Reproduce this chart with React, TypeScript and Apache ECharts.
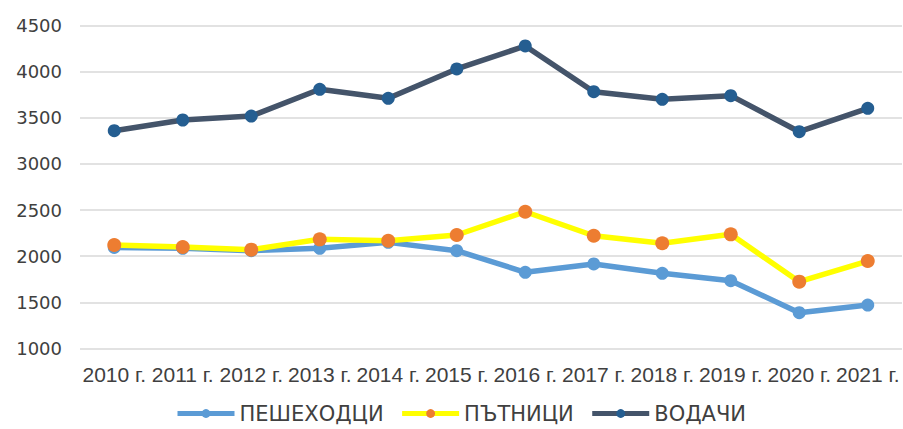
import React, { useEffect, useRef } from "react";
import * as echarts from "echarts";

const categories = [
  "2010 г.", "2011 г.", "2012 г.", "2013 г.", "2014 г.", "2015 г.",
  "2016 г.", "2017 г.", "2018 г.", "2019 г.", "2020 г.", "2021 г.",
];
const pedestrians = [2095, 2085, 2060, 2086, 2150, 2060, 1826, 1916, 1815, 1735, 1388, 1471];
const passengers = [2121, 2100, 2071, 2183, 2168, 2230, 2482, 2222, 2140, 2237, 1724, 1948];
const drivers = [3360, 3476, 3519, 3809, 3711, 4029, 4278, 3783, 3700, 3740, 3349, 3603];

const seriesNames = ["ПЕШЕХОДЦИ", "ПЪТНИЦИ", "ВОДАЧИ"];

export default function App() {
  const ref = useRef<HTMLDivElement>(null);
  useEffect(() => {
    if (!ref.current) return;
    const chart = echarts.init(ref.current, undefined, { renderer: "svg" });
    const mk = (name: string, data: number[], line: string, marker: string, size: number) => ({
      name,
      type: "line",
      data,
      symbol: "circle",
      symbolSize: size,
      lineStyle: { color: line, width: 5.5 },
      itemStyle: { color: marker, borderWidth: 0 },
      emphasis: { disabled: true },
    });
    chart.setOption({
      animation: false,
      backgroundColor: "#ffffff",
      grid: { left: 80, right: 1, top: 25.5, bottom: 80.5, containLabel: false, outerBoundsMode: "none" },
      legend: {
        data: seriesNames,
        top: 403,
        left: 175,
        padding: 0,
        itemWidth: 57,
        itemHeight: 11,
        itemGap: 16,
        lineStyle: { width: 5 },
        textStyle: { fontFamily: "DejaVu Sans", fontSize: 21, color: "#404040" },
      },
      xAxis: {
        type: "category",
        data: categories,
        boundaryGap: true,
        axisLine: { show: false },
        axisTick: { show: false },
        axisLabel: {
          interval: 0,
          margin: 15,
          fontFamily: "Liberation Sans",
          fontSize: 21,
          color: "#404040",
        },
      },
      yAxis: {
        type: "value",
        min: 1000,
        max: 4500,
        interval: 500,
        axisLine: { show: false },
        axisTick: { show: false },
        splitLine: { lineStyle: { color: "#D9D9D9", width: 1.5 } },
        axisLabel: {
          margin: 18,
          fontFamily: "DejaVu Sans",
          fontSize: 18,
          color: "#404040",
          formatter: (v: number) => String(v),
        },
      },
      series: [
        mk(seriesNames[0], pedestrians, "#5B9BD5", "#5B9BD5", 13),
        mk(seriesNames[1], passengers, "#FFFF00", "#ED7D31", 14),
        mk(seriesNames[2], drivers, "#44546A", "#255E91", 13),
      ],
    });
    return () => chart.dispose();
  }, []);
  return (
    <div
      ref={ref}
      style={{ position: "fixed", left: 0, top: 0, width: 903, height: 429, background: "#fff" }}
    />
  );
}
